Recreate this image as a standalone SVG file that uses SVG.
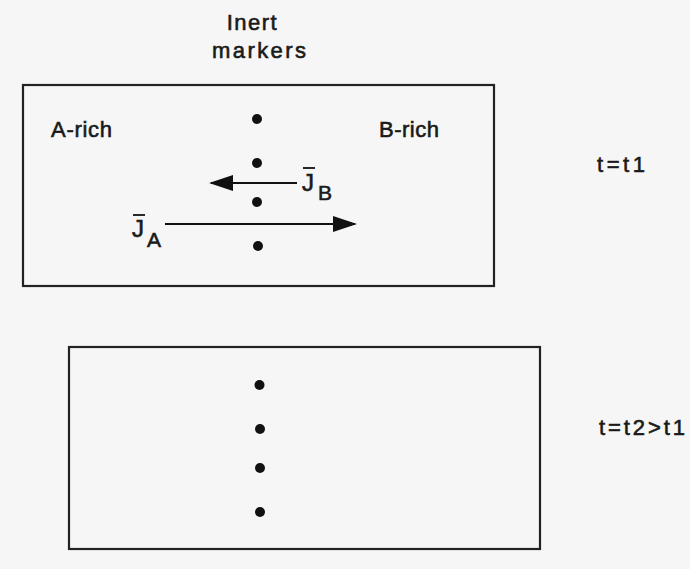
<svg xmlns="http://www.w3.org/2000/svg" width="690" height="569" viewBox="0 0 690 569">
  <style>
    .bg { fill: #f6f6f6; }
    .box { fill: none; stroke: #222; stroke-width: 2.2; }
    .dot { fill: #111; }
    .lbl { font-family: "Liberation Sans", Arial, sans-serif; font-size: 22px; fill: #1a1a1a; stroke: #1a1a1a; stroke-width: 0.6; }
    .j { font-family: "Liberation Sans", Arial, sans-serif; font-size: 24px; fill: #1a1a1a; stroke: #1a1a1a; stroke-width: 0.6; }
    .sub { font-family: "Liberation Sans", Arial, sans-serif; font-size: 21px; fill: #1a1a1a; stroke: #1a1a1a; stroke-width: 0.6; }
    .flux { stroke: #111; stroke-width: 2; fill: none; }
    .bar { stroke: #111; stroke-width: 1.8; }
  </style>
  <defs>
    <marker id="head" viewBox="0 0 24 16" markerWidth="24" markerHeight="16" refX="22" refY="8" orient="auto" markerUnits="userSpaceOnUse">
      <path d="M0,0 L24,8 L0,16 z" fill="#111"/>
    </marker>
  </defs>
  <rect class="bg" x="0" y="0" width="690" height="569"/>

  <g id="title">
    <text class="lbl" x="226.7" y="30" textLength="50" lengthAdjust="spacing">Inert</text>
    <text class="lbl" x="212" y="58" textLength="94" lengthAdjust="spacing">markers</text>
  </g>

  <g id="state-t1">
    <rect class="box" x="23" y="85" width="471" height="201"/>
    <text class="lbl" x="51" y="137" textLength="61" lengthAdjust="spacing">A-rich</text>
    <text class="lbl" x="379" y="137" textLength="60" lengthAdjust="spacing">B-rich</text>
    <circle class="dot" cx="257" cy="119" r="5"/>
    <circle class="dot" cx="257" cy="163" r="5"/>
    <circle class="dot" cx="257" cy="202" r="5"/>
    <circle class="dot" cx="258" cy="246" r="5"/>
    <g id="label-JB">
      <text class="j" x="302" y="191">J</text>
      <line class="bar" x1="303" y1="168" x2="315" y2="168"/>
      <text class="sub" x="318" y="200">B</text>
    </g>
    <g id="label-JA">
      <text class="j" x="132" y="237">J</text>
      <line class="bar" x1="133" y1="215" x2="145" y2="215"/>
      <text class="sub" x="147" y="247">A</text>
    </g>
  </g>

  <g id="connectors">
    <line class="flux" x1="297" y1="183" x2="211" y2="183" marker-end="url(#head)"/>
    <line class="flux" x1="165" y1="224" x2="355" y2="224" marker-end="url(#head)"/>
  </g>

  <g id="time-t1">
    <text class="lbl" x="597" y="172" textLength="48" lengthAdjust="spacing">t=t1</text>
  </g>

  <g id="state-t2">
    <rect class="box" x="69" y="347" width="471" height="202"/>
    <circle class="dot" cx="259.5" cy="385" r="5"/>
    <circle class="dot" cx="260" cy="429" r="5"/>
    <circle class="dot" cx="260" cy="468" r="5"/>
    <circle class="dot" cx="260" cy="512" r="5"/>
  </g>

  <g id="time-t2">
    <text class="lbl" x="599" y="435" textLength="86" lengthAdjust="spacing">t=t2&gt;t1</text>
  </g>
</svg>
